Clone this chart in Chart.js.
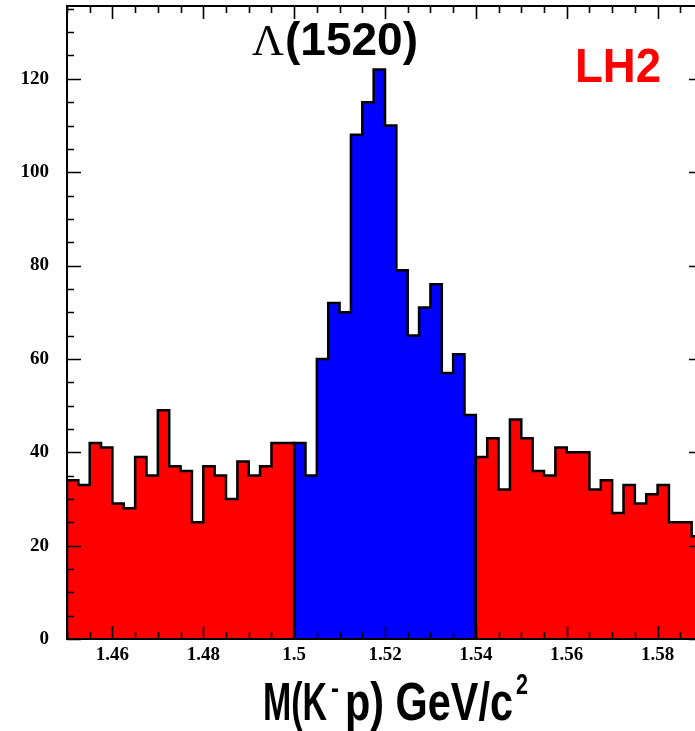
<!DOCTYPE html>
<html>
<head>
<meta charset="utf-8">
<script src="https://cdn.jsdelivr.net/npm/chart.js@4.4.1/dist/chart.umd.min.js"></script>
<style>
html,body{margin:0;padding:0;background:#fff;overflow:hidden;}
#wrap{position:absolute;left:0;top:0;width:730px;height:731px;}
</style>
</head>
<body>
<div id="wrap"><canvas id="c" width="730" height="731"></canvas></div>
<script>
// ---- data (counts per 0.0025 GeV bin) ----
const binWidth = 0.0025;
const lowSideStart = 1.45;
const lowSideCounts = [34,33,42,41,29,28,39,35,49,37,36,25,37,35,30,38,35,37,42,42];
const signalStart = 1.50;
const signalCounts = [42,35,60,72,70,108,115,122,110,79,65,71,76,57,61,48];
const highSideStart = 1.54;
const highSideCounts = [39,43,32,47,43,36,35,41,40,40,32,34,27,33,29,31,33,25,25,22];
const xTickLabels = [1.46,1.48,1.50,1.52,1.54,1.56,1.58];
const yTickLabels = [0,20,40,60,80,100,120];
const xRange = [1.45, 1.59];
const yRange = [0, 135.6];
const titleText = "\u039B";
const titleText2 = "(1520)";
const targetLabel = "LH2";

function histPoints(start, counts){
  const pts = [{x:start, y:0}];
  counts.forEach((c,i)=>{ pts.push({x:start + i*binWidth, y:c}); });
  const end = start + counts.length*binWidth;
  pts.push({x:end, y:counts[counts.length-1]});
  pts.push({x:end, y:0});
  return pts;
}

const dsBase = {stepped:true, pointRadius:0, borderColor:'#000', borderWidth:2.5, fill:'origin', tension:0};

const framePlugin = {
  id:'frame',
  afterDatasetsDraw(chart){
    const ctx = chart.ctx, ax = chart.scales.x, ay = chart.scales.y;
    const {left,right,top,bottom} = chart.chartArea;
    ctx.save();
    ctx.strokeStyle = '#000';
    ctx.lineWidth = 1.6;
    ctx.beginPath();
    for(let i=0;i<=28;i++){
      const v = xRange[0] + i*0.005;
      const major = (i % 4) === 2;
      const len = major ? 13 : 7;
      const x = Math.round(ax.getPixelForValue(v)) + 0.5;
      ctx.moveTo(x,bottom); ctx.lineTo(x,bottom-len);
      ctx.moveTo(x,top); ctx.lineTo(x,top+len);
    }
    for(let v=0; v<=yRange[1]; v+=5){
      const major = (v % 20) === 0;
      const len = major ? 14 : 7;
      const y = Math.round(ay.getPixelForValue(v)) + 0.5;
      ctx.moveTo(left,y); ctx.lineTo(left+len,y);
      ctx.moveTo(right,y); ctx.lineTo(right-len,y);
    }
    ctx.stroke();
    ctx.lineWidth = 2;
    ctx.strokeRect(left, top, right-left, bottom-top);
    ctx.restore();
  },
  afterDraw(chart){
    const ctx = chart.ctx;
    ctx.save();
    ctx.fillStyle = '#000';
    ctx.textBaseline = 'alphabetic';
    ctx.textAlign = 'left';
    // title
    ctx.font = '44px "Liberation Serif"';
    ctx.fillText(titleText, 252, 55, 33);
    ctx.font = 'bold 46px "Liberation Sans"';
    ctx.fillText(titleText2, 285, 55, 137);
    // target label
    ctx.fillStyle = '#ff0000';
    ctx.font = 'bold 48px "Liberation Sans"';
    ctx.fillText(targetLabel, 575, 82, 86);
    // x axis title
    ctx.fillStyle = '#000';
    ctx.font = 'bold 53px "Liberation Sans"';
    ctx.fillText('M(K', 263, 720, 64);
    ctx.fillText('p) GeV/c', 345, 720, 168);
    ctx.font = 'bold 30px "Liberation Sans"';
    ctx.fillText('-', 331, 698, 8);
    ctx.font = 'bold 29px "Liberation Sans"';
    ctx.fillText('2', 516, 694, 12);
    ctx.restore();
  }
};

new Chart(document.getElementById('c'), {
  type:'line',
  data:{
    datasets:[
      Object.assign({label:'low', data:histPoints(lowSideStart, lowSideCounts), backgroundColor:'#ff0000'}, dsBase),
      Object.assign({label:'high', data:histPoints(highSideStart, highSideCounts), backgroundColor:'#ff0000'}, dsBase),
      Object.assign({label:'signal', data:histPoints(signalStart, signalCounts), backgroundColor:'#0000ff'}, dsBase)
    ]
  },
  options:{
    responsive:false,
    animation:false,
    devicePixelRatio:1,
    layout:{padding:{left:0,right:27,top:6,bottom:0}},
    plugins:{legend:{display:false}, tooltip:{enabled:false}, title:{display:false}},
    scales:{
      x:{
        type:'linear', min:xRange[0], max:xRange[1],
        grid:{display:false, drawTicks:false, tickLength:0},
        border:{display:false},
        afterBuildTicks(s){ s.ticks = xTickLabels.map(v=>({value:v})); },
        afterFit(s){ s.height = 92; s.paddingLeft = 0; s.paddingRight = 0; },
        ticks:{
          autoSkip:false, maxRotation:0, padding:5, color:'#000',
          font:{family:'"Liberation Serif"', weight:'bold', size:19},
          callback:(v)=>String(+Number(v).toFixed(2))
        }
      },
      y:{
        type:'linear', min:yRange[0], max:yRange[1],
        grid:{display:false, drawTicks:false, tickLength:0},
        border:{display:false},
        afterBuildTicks(s){ s.ticks = yTickLabels.map(v=>({value:v})); },
        afterFit(s){ s.width = 67; s.paddingTop = 0; s.paddingBottom = 0; },
        ticks:{
          padding:18, color:'#000',
          font:{family:'"Liberation Serif"', weight:'bold', size:19},
          callback:(v)=>String(v)
        }
      }
    }
  },
  plugins:[framePlugin]
});
</script>
</body>
</html>
